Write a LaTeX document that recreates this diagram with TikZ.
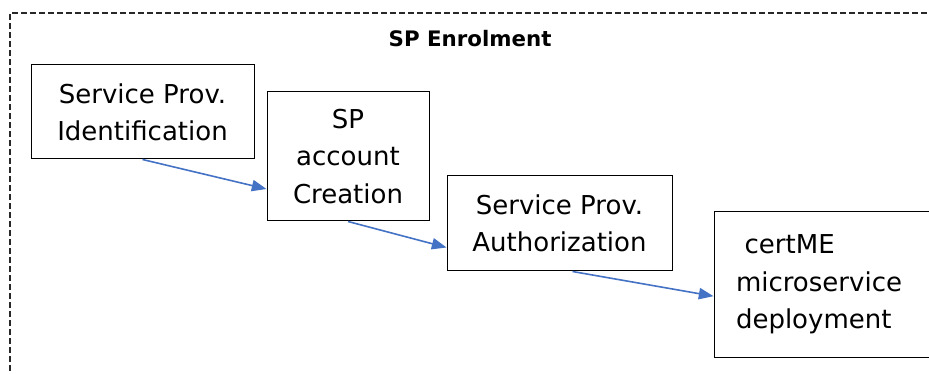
\documentclass[tikz,border=0pt]{standalone}
\usepackage{fontspec}
\setmainfont{DejaVu Sans}
\usetikzlibrary{arrows.meta,calc}

\tikzset{
  stepbox/.style={draw, line width=0.75pt, inner sep=0pt, align=center, font=\fontsize{19.5}{28}\selectfont},
  flowarrow/.style={color={rgb, 255:red, 68; green, 114; blue, 196 }, line width=1.2pt, -{Triangle[length=11pt,width=8.5pt]}},
}

\begin{document}
\begin{tikzpicture}[x=0.75pt,y=0.75pt,yscale=-1,xscale=1]
\useasboundingbox (0,0) rectangle (929,374);
\clip (0,0) rectangle (929,374);

%Shape: Dashed frame
\draw [dash pattern=on 4.5pt off 2.25pt, color={rgb, 255:red, 40; green, 40; blue, 40 }, line width=0.9pt] (10,380) -- (10,13) -- (935,13);

% Text Node
\draw (384,47) node [anchor=base west, font=\fontsize{16}{20}\selectfont\bfseries] (title) {SP Enrolment};

%Shape: Rectangle
\draw (142.5,112) node [stepbox, minimum width=167.25pt, minimum height=70.5pt] (ident) {Service Prov.\\Identification};
%Shape: Rectangle
\draw (348,156.5) node [stepbox, minimum width=121.5pt, minimum height=96.75pt] (create) {SP\\account\\Creation};
%Shape: Rectangle
\draw (559.5,223.5) node [stepbox, minimum width=168.75pt, minimum height=71.25pt] (auth) {Service Prov.\\Authorization};
%Shape: Rectangle
\draw (834,284.5) node [stepbox, minimum height=108.75pt, text width=147pt, inner xsep=16.5pt, align=left] (deploy) {~certME\\microservice\\deployment};

%Straight Lines
\draw [flowarrow] (ident.south) -- ($(create.north west)!0.75!(create.south west)$);
%Straight Lines
\draw [flowarrow] (create.south) -- ($(auth.north west)!0.75!(auth.south west)$);
%Straight Lines
\draw [flowarrow] ([xshift=9.75pt]auth.south) -- ($(deploy.north west)!0.58!(deploy.south west)$);

\end{tikzpicture}
\end{document}
